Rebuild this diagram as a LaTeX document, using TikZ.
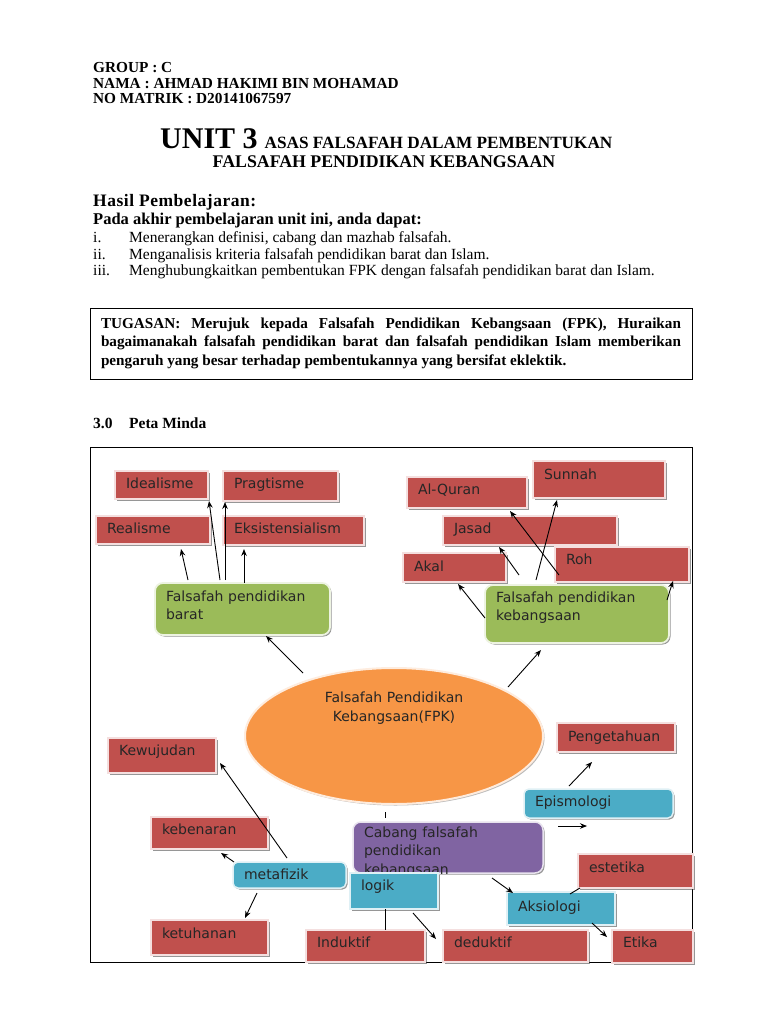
\documentclass[tikz,border=0pt]{standalone}
\usepackage{fontspec}
\setmainfont{Liberation Serif}
\newfontfamily\dv{DejaVu Sans}
\usetikzlibrary{calc,shadows,arrows.meta,shapes.geometric}
\definecolor{redc}{HTML}{C0504D}
\definecolor{grnc}{HTML}{9BBB59}
\definecolor{bluc}{HTML}{4BACC6}
\definecolor{purc}{HTML}{8064A2}
\definecolor{orgc}{HTML}{F79646}
\newcommand\bx[8]{%
  \pgfmathsetmacro\mybw{#5-#3}%
  \pgfmathsetmacro\mybh{#6-#4}%
  \pgfmathsetmacro\mybd{#6-#4-#7}%
  \pgfmathsetmacro\mytw{#5-#3-22}%
  \node[#1, anchor=north west, minimum width=\mybw pt, minimum height=\mybh pt,
        text width=\mytw pt, text height=#7pt, text depth=\mybd pt] (#2) at (#3,#4) {#8};}
\begin{document}
\begin{tikzpicture}[x=1pt,y=-1pt,
  hdr/.style={inner sep=0pt, anchor=base west, font=\fontsize{15.3}{18}\selectfont\bfseries},
  itm/.style={inner sep=0pt, anchor=base west, font=\fontsize{15.5}{18}\selectfont},
  bx/.style={outer sep=0pt, inner xsep=11pt, inner ysep=0pt, align=left,
     font=\dv\fontsize{14}{18.5}\selectfont, text=black!85,
     drop shadow={shadow xshift=1.5pt, shadow yshift=-1.5pt, opacity=0.55, fill=black!75}},
  rbox/.style={bx, fill=redc, draw=redc!18!white, line width=1.5pt},
  gbox/.style={bx, fill=grnc, draw=grnc!18!white, line width=1.8pt, rounded corners=8pt},
  bbox/.style={bx, fill=bluc, draw=bluc!18!white, line width=1.5pt, rounded corners=5pt},
  bsq/.style={bx, fill=bluc, draw=bluc!18!white, line width=1.5pt},
  pbox/.style={bx, fill=purc, draw=purc!18!white, line width=1.5pt, rounded corners=8pt},
  arr/.style={line width=0.9pt, -{Stealth[length=7pt,width=5.5pt]}},
  ln/.style={line width=0.9pt}
]
\useasboundingbox (0,0) rectangle (768,1024);
\fill[white] (0,0) rectangle (768,1024);

% header
\node[hdr] (g1) at (93,73) {GROUP : C};
\node[hdr] (g2) at (93,88.5) {NAMA : AHMAD HAKIMI BIN MOHAMAD};
\node[hdr] (g3) at (93,104) {NO MATRIK : D20141067597};

\node[inner sep=0pt, anchor=base west, font=\bfseries] (t1) at (160,149)
  {{\fontsize{30}{32}\selectfont UNIT 3}\hspace{7pt}{\fontsize{17.2}{20}\selectfont ASAS FALSAFAH DALAM PEMBENTUKAN}};
\node[inner sep=0pt, anchor=base, font=\bfseries\fontsize{17.8}{20}\selectfont] (t2) at (384,168)
  {FALSAFAH PENDIDIKAN KEBANGSAAN};

\node[inner sep=0pt, anchor=base west, font=\bfseries\fontsize{17.5}{20}\selectfont\addfontfeatures{LetterSpace=3}] (h1) at (93,207) {Hasil Pembelajaran:};
\node[inner sep=0pt, anchor=base west, font=\bfseries\fontsize{16.5}{20}\selectfont] (h2) at (93,225) {Pada akhir pembelajaran unit ini, anda dapat:};

\node[itm] (n1) at (93,243) {i.};
\node[itm] (l1) at (129,243) {Menerangkan definisi, cabang dan mazhab falsafah.};
\node[itm] (n2) at (93,259) {ii.};
\node[itm] (l2) at (129,259) {Menganalisis kriteria falsafah pendidikan barat dan Islam.};
\node[itm] (n3) at (93,275) {iii.};
\node[itm] (l3) at (129,275) {Menghubungkaitkan pembentukan FPK dengan falsafah pendidikan barat dan Islam.};

\node[draw, line width=1pt, outer sep=0pt, inner xsep=11pt, inner ysep=0pt, anchor=north west,
      text width=580pt, text height=20pt, text depth=51pt, align=justify,
      font=\bfseries\fontsize{15.2}{18.5}\selectfont] (tug) at (90,308)
  {\hyphenpenalty=10000 TUGASAN: Merujuk kepada Falsafah Pendidikan Kebangsaan (FPK), Huraikan\linebreak
   bagaimanakah falsafah pendidikan barat dan falsafah pendidikan Islam memberikan\linebreak
   pengaruh yang besar terhadap pembentukannya yang bersifat eklektik.};

\node[inner sep=0pt, anchor=base west, font=\bfseries\fontsize{15.5}{18}\selectfont] (s1) at (93,428) {3.0};
\node[inner sep=0pt, anchor=base west, font=\bfseries\fontsize{15.5}{18}\selectfont] (s2) at (129,428) {Peta Minda};

% frame
\node[draw, line width=0.9pt, outer sep=0pt, inner sep=0pt, anchor=north west,
      minimum width=602pt, minimum height=515pt] (frame) at (90,447) {};

% ellipse
\node[ellipse, fill=orgc, draw=orgc!18!white, line width=2pt, minimum width=298pt, minimum height=136pt,
      inner sep=0pt, text width=200pt, align=center, text height=10pt, text depth=78pt,
      font=\dv\fontsize{14}{19.5}\selectfont, text=black!85,
      drop shadow={shadow xshift=1.5pt, shadow yshift=-1.5pt, opacity=0.45, fill=black!60}] (ell) at (394,736)
  {Falsafah Pendidikan\\Kebangsaan(FPK)};

% red boxes
\bx{rbox}{ide}{115}{471}{208}{499}{17.5}{Idealisme}
\bx{rbox}{pra}{223}{471}{338}{501}{17.5}{Pragtisme}
\bx{rbox}{rea}{96}{516}{210}{544}{17.5}{Realisme}
\bx{rbox}{eks}{223}{516}{364}{545}{17.5}{Eksistensialism}
\bx{rbox}{alq}{407}{477}{527}{508}{17.5}{Al-Quran}
\bx{rbox}{sun}{533}{461}{665}{498}{18.5}{Sunnah}
\bx{rbox}{jas}{443}{516}{617}{545}{17.5}{Jasad}
\bx{rbox}{aka}{403}{553}{506}{582}{18.5}{Akal}
\bx{rbox}{roh}{555}{547}{689}{582}{17}{Roh}
\bx{rbox}{pen}{557}{723}{675}{752}{18}{Pengetahuan}
\bx{rbox}{kew}{108}{738}{216}{773}{17}{Kewujudan}
\bx{rbox}{keb}{151}{817}{268}{849}{17.5}{kebenaran}
\bx{rbox}{ket}{151}{920}{268}{955}{18}{ketuhanan}
\bx{rbox}{ind}{306}{930}{425}{962}{17}{Induktif}
\bx{rbox}{ded}{443}{930}{588}{962}{17}{deduktif}
\bx{rbox}{est}{578}{854}{693}{888}{18}{estetika}
\bx{rbox}{eti}{612}{930}{693}{963}{17}{Etika}

% green boxes
\bx{gbox}{bar}{155}{583}{330}{635}{18}{Falsafah pendidikan\\barat}
\bx{gbox}{kbg}{485}{585}{669}{643}{17}{Falsafah pendidikan\\kebangsaan}

% blue boxes
\bx{bbox}{met}{233}{862}{346}{888}{17}{metafizik}
\bx{bbox}{epi}{524}{789}{673}{818}{17}{Epismologi}
\bx{bsq}{aks}{507}{892}{615}{925}{19}{Aksiologi}

% purple (text clipped by its box)
\begin{scope}
  \clip (345,815) rectangle (552,874.5);
  \bx{pbox}{cab}{353}{822}{543}{873}{15}{Cabang falsafah\\pendidikan\\kebangsaan}
\end{scope}
\bx{bsq}{log}{350}{873}{438}{909}{17}{logik}

% connectors
\draw[arr] ($(bar.north west)+(33,-3)$) -- ($(rea.north west)+(85,33)$);
\draw[arr] ($(bar.north west)+(65,-3)$) -- ($(ide.north west)+(94,30)$);
\draw[arr] ($(bar.north west)+(70,-3)$) -- ($(pra.north west)+(2,31)$);
\draw[arr] ($(bar.north west)+(89,0)$) -- ($(eks.north west)+(21,33)$);
\draw[arr] ($(ell.center)+(-91,-63)$) -- ($(bar.north west)+(111,53)$);
\draw[arr] ($(ell.center)+(114,-49)$) -- ($(kbg.north west)+(56,65)$);
\draw[arr] ($(kbg.north west)+(0,33)$) -- ($(aka.north west)+(55,31)$);
\draw[arr] ($(kbg.north west)+(34,-10)$) -- ($(jas.north west)+(56,31)$);
\draw[arr] ($(kbg.north west)+(51,-5)$) -- ($(sun.north west)+(24,39)$);
\draw[arr] ($(kbg.north west)+(74,-10)$) -- ($(alq.north west)+(103,34)$);
\draw[arr] ($(kbg.north west)+(182,15)$) -- ($(roh.north west)+(118,34)$);
\draw[arr] ($(met.north west)+(54,-4)$) -- ($(kew.north west)+(112,25)$);
\draw[arr] ($(met.north west)+(1,0)$) -- ($(keb.north west)+(70,36)$);
\draw[arr] ($(met.north west)+(24,31)$) -- ($(ket.north west)+(94,-2)$);
\draw[arr] ($(epi.north west)+(45,-3)$) -- ($(pen.north west)+(35,39)$);
\draw[arr] ($(cab.north west)+(205,4)$) -- ($(epi.north west)+(63,37)$);
\draw[ln] ($(ell.center)+(-9,76)$) -- ($(cab.north west)+(32,-4)$);
\draw[arr] ($(cab.north west)+(139,56)$) -- ($(aks.north west)+(6,1)$);
\draw[arr] ($(log.north west)+(63,40)$) -- ($(ded.north west)+(-7,9)$);
\draw[ln] ($(log.north west)+(35,36)$) -- ($(ind.north west)+(79,0)$);
\draw[ln] ($(aks.north west)+(63,2)$) -- ($(est.north west)+(2,34)$);
\draw[arr] ($(aks.north west)+(85,31)$) -- ($(eti.north west)+(-5,7)$);
\end{tikzpicture}
\end{document}
